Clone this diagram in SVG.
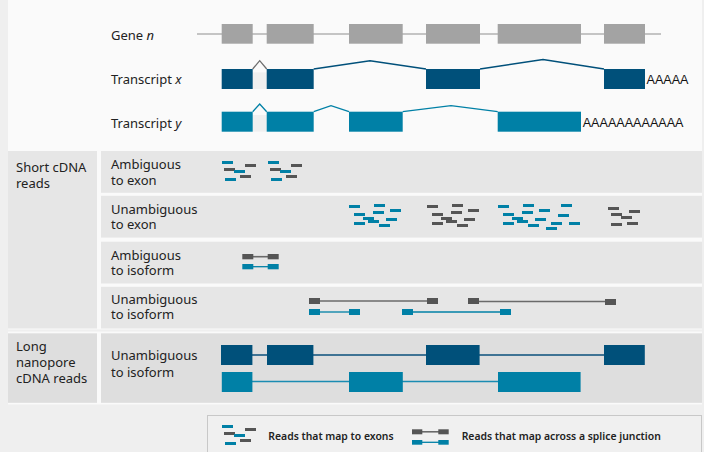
<svg xmlns="http://www.w3.org/2000/svg" width="704" height="452" viewBox="0 0 704 452">
<defs>
<style>
.lbl{font-family:"Noto Sans","Open Sans","Liberation Sans",sans-serif;font-size:13px;fill:#222}
.leg{font-family:"Noto Sans","Open Sans","Liberation Sans",sans-serif;font-size:10.4px;font-weight:600;fill:#222}
.polyA{font-family:"Liberation Sans",Arial,sans-serif;font-size:12.6px;fill:#111}
.panel{fill:#e6e6e6}
.panel2{fill:#dedede}
.gene{fill:#a3a3a3}
.dk{fill:#00507a}
.tl{fill:#0080a6}
.gr{fill:#555}
.gap{fill:#efefef}
.ldk{stroke:#00507a;stroke-width:1.5;fill:none}
.ltl{stroke:#0080a6;stroke-width:1.3;fill:none}
.lgr{stroke:#6a6a6a;stroke-width:1.6;fill:none}
.lldk{stroke:#3f7394;stroke-width:2;fill:none}
.lltl{stroke:#1a8cb2;stroke-width:1.3;fill:none}
</style>
<g id="exonReads">
<rect class="tl" x="0" y="0" width="11" height="3"/>
<rect class="gr" x="23" y="3" width="11" height="3"/>
<rect class="gr" x="2" y="7" width="11" height="3"/>
<rect class="tl" x="12" y="9" width="11" height="3"/>
<rect class="gr" x="18" y="14" width="11" height="3"/>
<rect class="tl" x="3" y="17" width="11" height="3"/>
</g>
<g id="clusterBase">
<rect x="0" y="1" width="11" height="3"/>
<rect x="25" y="0" width="11" height="3"/>
<rect x="41" y="5" width="11" height="3"/>
<rect x="5" y="9" width="11" height="3"/>
<rect x="24" y="7" width="11" height="3"/>
<rect x="14" y="13" width="11" height="3"/>
<rect x="19" y="16" width="11" height="3"/>
<rect x="37" y="14" width="11" height="3"/>
<rect x="5" y="18" width="11" height="3"/>
<rect x="30" y="20" width="11" height="3"/>
</g>
</defs>
<rect x="0" y="0" width="704" height="452" fill="#efefef"/>
<rect x="8" y="0" width="694" height="329.5" fill="#fafafa"/>
<rect x="8" y="331.5" width="694" height="73" fill="#fafafa"/>

<g id="gene-n">
<text class="lbl" x="111" y="40">Gene <tspan font-style="italic">n</tspan></text>
<line x1="197" y1="34" x2="661" y2="34" stroke="#c4c4c4" stroke-width="2"/>
<rect class="gene" x="221.7" y="24" width="31" height="19.7"/>
<rect class="gene" x="266.7" y="24" width="47" height="19.7"/>
<rect class="gene" x="349" y="24" width="53.7" height="19.7"/>
<rect class="gene" x="426" y="24" width="54" height="19.7"/>
<rect class="gene" x="497.7" y="24" width="83.3" height="19.7"/>
<rect class="gene" x="604" y="24" width="41" height="19.7"/>
</g>

<g id="transcript-x">
<text class="lbl" x="111" y="84">Transcript <tspan font-style="italic">x</tspan></text>
<rect class="gap" x="252.7" y="72.3" width="14" height="16.7"/>
<polyline points="252.7,69 259.7,60.7 266.7,69" stroke="#6e6e6e" stroke-width="1.3" fill="none"/>
<polyline class="ldk" points="313.7,69 370,60.7 426,69"/>
<polyline class="ldk" points="480,69 543,59.5 604,69"/>
<rect class="dk" x="221.7" y="69" width="31" height="20"/>
<rect class="dk" x="266.7" y="69" width="47" height="20"/>
<rect class="dk" x="426" y="69" width="54" height="20"/>
<rect class="dk" x="604" y="69" width="41" height="20"/>
<text class="polyA" x="646.5" y="84">AAAAA</text>
</g>

<g id="transcript-y">
<text class="lbl" x="111" y="127.5">Transcript <tspan font-style="italic">y</tspan></text>
<rect class="gap" x="252.7" y="115" width="14" height="16.7"/>
<polyline class="ltl" points="252.7,111.7 259.7,104 266.7,111.7"/>
<polyline class="ltl" points="313.7,111.7 331,105.7 349,111.7"/>
<polyline class="ltl" points="402.7,111.7 451,105.7 497.7,111.7"/>
<rect class="tl" x="221.7" y="111.7" width="31" height="20"/>
<rect class="tl" x="266.7" y="111.7" width="47" height="20"/>
<rect class="tl" x="349" y="111.7" width="53.7" height="20"/>
<rect class="tl" x="497.7" y="111.7" width="83.3" height="20"/>
<text class="polyA" x="582.7" y="127">AAAAAAAAAAAA</text>
</g>

<g id="short-cdna">
<rect class="panel" x="8" y="151" width="89" height="177.5"/>
<text class="lbl" x="16" y="172"><tspan x="16">Short cDNA</tspan><tspan x="16" dy="15.6">reads</tspan></text>
</g>

<g id="ambiguous-exon">
<rect class="panel" x="101" y="151" width="601" height="41.8"/>
<text class="lbl" x="111" y="169"><tspan x="111">Ambiguous</tspan><tspan x="111" dy="15.5">to exon</tspan></text>
<use href="#exonReads" x="222" y="161"/>
<use href="#exonReads" x="268" y="161"/>
</g>

<g id="unambiguous-exon">
<rect class="panel" x="101" y="195.8" width="601" height="41.8"/>
<text class="lbl" x="111" y="213.5"><tspan x="111">Unambiguous</tspan><tspan x="111" dy="15.5">to exon</tspan></text>
<use href="#clusterBase" x="349" y="204" fill="#0080a6"/>
<use href="#clusterBase" x="427" y="204" fill="#555"/>
<use href="#clusterBase" x="498" y="204" fill="#0080a6"/>
<g class="tl">
<rect x="561" y="204" width="11" height="3"/>
<rect x="558" y="214" width="11" height="3"/>
<rect x="551" y="222" width="11" height="3"/>
<rect x="569" y="222" width="11" height="3"/>
<rect x="546" y="227" width="11" height="3"/>
</g>
<g class="gr">
<rect x="608" y="207" width="11" height="3"/>
<rect x="629" y="210" width="11" height="3"/>
<rect x="611" y="213" width="11" height="3"/>
<rect x="621" y="216" width="11" height="3"/>
<rect x="611" y="223" width="11" height="3"/>
<rect x="627" y="222" width="11" height="3"/>
</g>
</g>

<g id="ambiguous-isoform">
<rect class="panel" x="101" y="241.7" width="601" height="41.8"/>
<text class="lbl" x="111" y="260"><tspan x="111">Ambiguous</tspan><tspan x="111" dy="15">to isoform</tspan></text>
</g>

<g id="unambiguous-isoform">
<rect class="panel" x="101" y="286.8" width="601" height="41.7"/>
<text class="lbl" x="111" y="303.5"><tspan x="111">Unambiguous</tspan><tspan x="111" dy="15">to isoform</tspan></text>
</g>

<g id="long-nanopore">
<rect class="panel2" x="8" y="333.3" width="89" height="69.5"/>
<text class="lbl" x="16" y="351"><tspan x="16">Long</tspan><tspan x="16" dy="16">nanopore</tspan><tspan x="16" dy="16">cDNA reads</tspan></text>
</g>

<g id="long-unambiguous-isoform">
<rect class="panel2" x="101" y="333.3" width="601" height="69.5"/>
<text class="lbl" x="111" y="360"><tspan x="111">Unambiguous</tspan><tspan x="111" dy="16.5">to isoform</tspan></text>
</g>

<g id="connectors">
<line class="lgr" x1="253" y1="256.7" x2="268" y2="256.7"/>
<line class="ltl" x1="253" y1="266.7" x2="268" y2="266.7"/>
<line class="lgr" x1="320" y1="301" x2="427" y2="301"/>
<line class="lgr" x1="479" y1="301.5" x2="605" y2="301.5"/>
<line class="ltl" x1="320" y1="312" x2="349" y2="312"/>
<line class="ltl" x1="413" y1="312" x2="500" y2="312"/>
<line class="lldk" x1="252" y1="355" x2="267" y2="355"/>
<line class="lldk" x1="313" y1="355" x2="426" y2="355"/>
<line class="lldk" x1="479" y1="355" x2="604" y2="355"/>
<line class="lltl" x1="252" y1="381.5" x2="349" y2="381.5"/>
<line class="lltl" x1="402" y1="381.5" x2="498" y2="381.5"/>
</g>

<g id="isoform-reads">
<rect class="gr" x="242.3" y="254" width="11" height="5.3"/>
<rect class="gr" x="267.7" y="254" width="11" height="5.3"/>
<rect class="tl" x="242.3" y="264" width="11" height="5.3"/>
<rect class="tl" x="267.7" y="264" width="11" height="5.3"/>
<rect class="gr" x="309" y="298" width="11" height="6"/>
<rect class="gr" x="427" y="298" width="11" height="6"/>
<rect class="gr" x="468" y="298" width="11" height="6"/>
<rect class="gr" x="605" y="299" width="11" height="6"/>
<rect class="tl" x="309" y="309" width="11" height="6"/>
<rect class="tl" x="349" y="309" width="11" height="6"/>
<rect class="tl" x="402" y="309" width="11" height="6"/>
<rect class="tl" x="500" y="309" width="11" height="6"/>
</g>

<g id="long-reads">
<rect class="dk" x="221" y="345" width="31.4" height="20"/>
<rect class="dk" x="267" y="345" width="46.4" height="20"/>
<rect class="dk" x="426" y="345" width="53.6" height="20"/>
<rect class="dk" x="604" y="345" width="40.8" height="20"/>
<rect class="tl" x="221.8" y="372" width="30.6" height="20"/>
<rect class="tl" x="349" y="372" width="53.8" height="20"/>
<rect class="tl" x="498" y="372" width="82.6" height="20"/>
</g>

<g id="legend">
<rect x="207.5" y="415.5" width="494" height="40" fill="#f0f0f0" stroke="#c8c8c8" stroke-width="1"/>
<use href="#exonReads" x="222" y="425"/>
<text class="leg" x="268.3" y="439.5">Reads that map to exons</text>
<line class="lgr" x1="422" y1="431.8" x2="439" y2="431.8"/>
<line class="ltl" x1="422" y1="442.3" x2="439" y2="442.3"/>
<rect class="gr" x="412" y="429.3" width="10.3" height="5"/>
<rect class="gr" x="438.3" y="429.3" width="10.4" height="5"/>
<rect class="tl" x="412" y="440" width="10.3" height="4.7"/>
<rect class="tl" x="438.3" y="440" width="10.4" height="4.7"/>
<text class="leg" x="461.7" y="439.5">Reads that map across a splice junction</text>
</g>
</svg>
